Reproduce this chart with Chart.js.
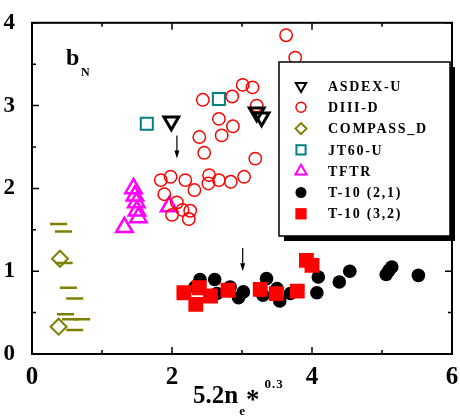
<!DOCTYPE html>
<html>
<head>
<meta charset="utf-8">
<script src="https://cdn.jsdelivr.net/npm/chart.js@4.4.1/dist/chart.umd.min.js"></script>
<style>
  html, body { margin: 0; padding: 0; background: #fff; }
</style>
</head>
<body>
<canvas id="chart" width="460" height="419"></canvas>
<script>
// values
const asdexX = [1.99, 3.21, 3.28];
const asdexY = [2.81, 2.92, 2.86];

const diiidX = [3.63, 3.76, 3.01, 3.15, 3.21, 3.19, 2.44, 2.86, 2.67, 2.87, 2.71, 2.39, 2.46,
                1.84, 1.98, 2.19, 2.32, 2.53, 2.52, 2.67, 2.84, 3.03, 1.89, 2.07, 2.00, 2.15, 2.26, 2.24];
const diiidY = [3.85, 3.58, 3.25, 3.22, 3.00, 2.36, 3.07, 3.11, 2.84, 2.75, 2.64, 2.62, 2.43,
                2.10, 2.14, 2.10, 1.98, 2.16, 2.06, 2.10, 2.08, 2.14, 1.93, 1.83, 1.68, 1.74, 1.73, 1.63];

const compassX = [0.40, 0.38];
const compassY = [1.15, 0.33];
// short horizontal bars next to the COMPASS_D points (not in legend)
const compassBarX = [0.38, 0.45, 0.46, 0.52, 0.61, 0.48, 0.55, 0.71, 0.61];
const compassBarY = [1.57, 1.48, 1.10, 0.80, 0.67, 0.48, 0.42, 0.42, 0.29];

const jt60X = [1.64, 2.67];
const jt60Y = [2.78, 3.08];

const tftrX = [1.45, 1.47, 1.49, 1.50, 1.52, 1.32, 1.96];
const tftrY = [2.00, 1.91, 1.83, 1.73, 1.65, 1.53, 1.78];

const t21X = [2.40, 2.61, 2.33, 2.83, 2.64, 2.95, 3.02, 3.35, 3.30, 3.50, 3.54, 3.69,
              4.09, 4.07, 4.39, 4.54, 5.06, 5.10, 5.14, 5.52];
const t21Y = [0.90, 0.90, 0.81, 0.81, 0.73, 0.68, 0.75, 0.91, 0.71, 0.79, 0.64, 0.73,
              0.93, 0.74, 0.87, 1.00, 0.96, 1.01, 1.05, 0.95];

const t32X = [2.17, 2.39, 2.34, 2.55, 2.80, 3.26, 3.49, 3.79, 3.92, 4.00];
const t32Y = [0.74, 0.80, 0.60, 0.70, 0.77, 0.78, 0.73, 0.76, 1.13, 1.07];

// arrows drawn in the figure
const arrowX = [2.07, 3.01];
const arrowFromY = [2.64, 1.28];
const arrowToY = [2.36, 1.00];

const xTickLabels = [0, 2, 4, 6];
const yTickLabels = [0, 1, 2, 3, 4];

const serif = "'Liberation Serif', 'Times New Roman', serif";

const pts = (xs, ys) => xs.map((x, i) => ({ x: x, y: ys[i] }));

const datasets = [
  { label: "T-10 (3,2)", data: pts(t32X, t32Y), pointStyle: "rect", pointRadius: 10.5,
    backgroundColor: "#ff0000", borderColor: "#ff0000", borderWidth: 0, legendRadius: 8 },
  { label: "T-10 (2,1)", data: pts(t21X, t21Y), pointStyle: "circle", pointRadius: 6.8,
    backgroundColor: "#000000", borderColor: "#000000", borderWidth: 0, legendRadius: 5.5 },
  { label: "ASDEX-U", data: pts(asdexX, asdexY), pointStyle: "triangle", pointRotation: 180,
    pointRadius: 8.5, backgroundColor: "rgba(0,0,0,0)", borderColor: "#000000", borderWidth: 3,
    legendRadius: 6, legendBorder: 2 },
  { label: "DIII-D", data: pts(diiidX, diiidY), pointStyle: "circle", pointRadius: 6.2,
    backgroundColor: "rgba(0,0,0,0)", borderColor: "#ff0000", borderWidth: 1.5, legendRadius: 5 },
  { label: "COMPASS_D", data: pts(compassX, compassY), pointStyle: "rectRot", pointRadius: 8,
    backgroundColor: "rgba(0,0,0,0)", borderColor: "#808000", borderWidth: 2, legendRadius: 5.5 },
  { label: "", data: pts(compassBarX, compassBarY), pointStyle: "line", pointRadius: 8.5,
    backgroundColor: "#808000", borderColor: "#808000", borderWidth: 2.5, noLegend: true },
  { label: "JT60-U", data: pts(jt60X, jt60Y), pointStyle: "rect", pointRadius: 8.5,
    backgroundColor: "rgba(0,0,0,0)", borderColor: "#008080", borderWidth: 2, legendRadius: 6.5 },
  { label: "TFTR", data: pts(tftrX, tftrY), pointStyle: "triangle", pointRadius: 9.5,
    backgroundColor: "rgba(0,0,0,0)", borderColor: "#ff00ff", borderWidth: 2.5, legendRadius: 6.5,
    legendBorder: 2 }
];
datasets.forEach(d => { d.pointHoverRadius = d.pointRadius; d.showLine = false; });

const legendOrder = ["ASDEX-U", "DIII-D", "COMPASS_D", "JT60-U", "TFTR", "T-10 (2,1)", "T-10 (3,2)"];

// frame, inward tick marks on all four sides, arrows, legend box, axis titles
const decorations = {
  id: "decorations",
  afterDatasetsDraw(chart) {
    const ctx = chart.ctx;
    const a = chart.chartArea;
    const xs = chart.scales.x, ys = chart.scales.y;
    ctx.save();

    ctx.strokeStyle = "#000";
    ctx.lineWidth = 2;
    ctx.strokeRect(a.left, a.top, a.right - a.left, a.bottom - a.top);

    ctx.lineWidth = 1.5;
    ctx.beginPath();
    for (let v = 0; v <= 6; v++) {
      const px = xs.getPixelForValue(v);
      const len = v % 2 === 0 ? 7 : 4;
      ctx.moveTo(px, a.bottom); ctx.lineTo(px, a.bottom - len);
      ctx.moveTo(px, a.top); ctx.lineTo(px, a.top + len);
    }
    for (let v = 0; v <= 4; v += 0.5) {
      const py = ys.getPixelForValue(v);
      const len = Number.isInteger(v) ? 7 : 4;
      ctx.moveTo(a.left, py); ctx.lineTo(a.left + len, py);
      ctx.moveTo(a.right, py); ctx.lineTo(a.right - len, py);
    }
    ctx.stroke();

    // arrows
    ctx.lineWidth = 1.2;
    ctx.fillStyle = "#000";
    arrowX.forEach((x, i) => {
      const px = xs.getPixelForValue(x);
      const y0 = ys.getPixelForValue(arrowFromY[i]);
      const y1 = ys.getPixelForValue(arrowToY[i]);
      ctx.beginPath(); ctx.moveTo(px, y0); ctx.lineTo(px, y1 - 6); ctx.stroke();
      ctx.beginPath(); ctx.moveTo(px - 2.5, y1 - 8); ctx.lineTo(px + 2.5, y1 - 8); ctx.lineTo(px, y1);
      ctx.closePath(); ctx.fill();
    });

    // legend box with drop shadow
    const lx = 279, ly = 62, lw = 171, lh = 174;
    ctx.fillStyle = "#000";
    ctx.fillRect(lx + 5, ly + 5, lw, lh);
    ctx.fillStyle = "#fff";
    ctx.fillRect(lx, ly, lw, lh);
    ctx.lineWidth = 1.5;
    ctx.strokeRect(lx, ly, lw, lh);

    ctx.font = "bold 14px " + serif;
    ctx.textBaseline = "middle";
    ctx.textAlign = "left";
    ctx.letterSpacing = "1.7px";
    legendOrder.forEach((name, i) => {
      const d = chart.data.datasets.find(s => s.label === name);
      const cy = 86 + i * 21.3;
      ctx.fillStyle = d.backgroundColor;
      ctx.strokeStyle = d.borderColor;
      ctx.lineWidth = d.legendBorder || d.borderWidth || 1;
      Chart.helpers.drawPoint(ctx, {
        pointStyle: d.pointStyle, radius: d.legendRadius,
        rotation: d.pointRotation || 0, borderWidth: d.legendBorder || d.borderWidth
      }, 301, cy);
      ctx.fillStyle = "#000";
      ctx.fillText(name, 328, cy + 1);
    });
    ctx.letterSpacing = "0px";

    // axis titles
    ctx.fillStyle = "#000";
    ctx.textBaseline = "alphabetic";
    ctx.font = "bold 25px " + serif;
    let tx = 193;
    ctx.fillText("5.2n", tx, 403);
    tx += ctx.measureText("5.2n").width;
    ctx.font = "bold 13px " + serif;
    ctx.fillText("e", tx + 1, 415);
    tx += ctx.measureText("e").width + 2;
    ctx.font = "bold 27px " + serif;
    ctx.fillText("*", tx, 408);
    tx += ctx.measureText("*").width + 5;
    ctx.font = "bold 13px " + serif;
    ctx.letterSpacing = "1px";
    ctx.fillText("0.3", tx, 388);
    ctx.letterSpacing = "0px";

    ctx.font = "bold 24px " + serif;
    ctx.fillText("b", 66, 65);
    ctx.font = "bold 12px " + serif;
    ctx.fillText("N", 81, 76);

    ctx.restore();
  }
};

new Chart(document.getElementById("chart"), {
  type: "scatter",
  data: { datasets: datasets },
  options: {
    responsive: false,
    animation: false,
    events: [],
    layout: { autoPadding: false, padding: { top: 14, right: 8, left: 0, bottom: 0 } },
    plugins: { legend: { display: false }, tooltip: { enabled: false } },
    scales: {
      x: {
        type: "linear", min: 0, max: 6,
        grid: { display: false },
        border: { display: false },
        ticks: {
          stepSize: 1, padding: 1, color: "#000",
          font: { family: serif, size: 25, weight: "bold" },
          callback: v => xTickLabels.includes(v) ? String(v) : ""
        },
        afterFit: s => { s.height = 65; }
      },
      y: {
        type: "linear", min: 0, max: 4,
        grid: { display: false },
        border: { display: false },
        ticks: {
          stepSize: 0.5, padding: 9, color: "#000",
          font: { family: serif, size: 23, weight: "bold" },
          callback: v => yTickLabels.includes(v) ? String(v) : ""
        },
        afterFit: s => { s.width = 32; }
      }
    }
  },
  plugins: [decorations]
});
</script>
</body>
</html>
